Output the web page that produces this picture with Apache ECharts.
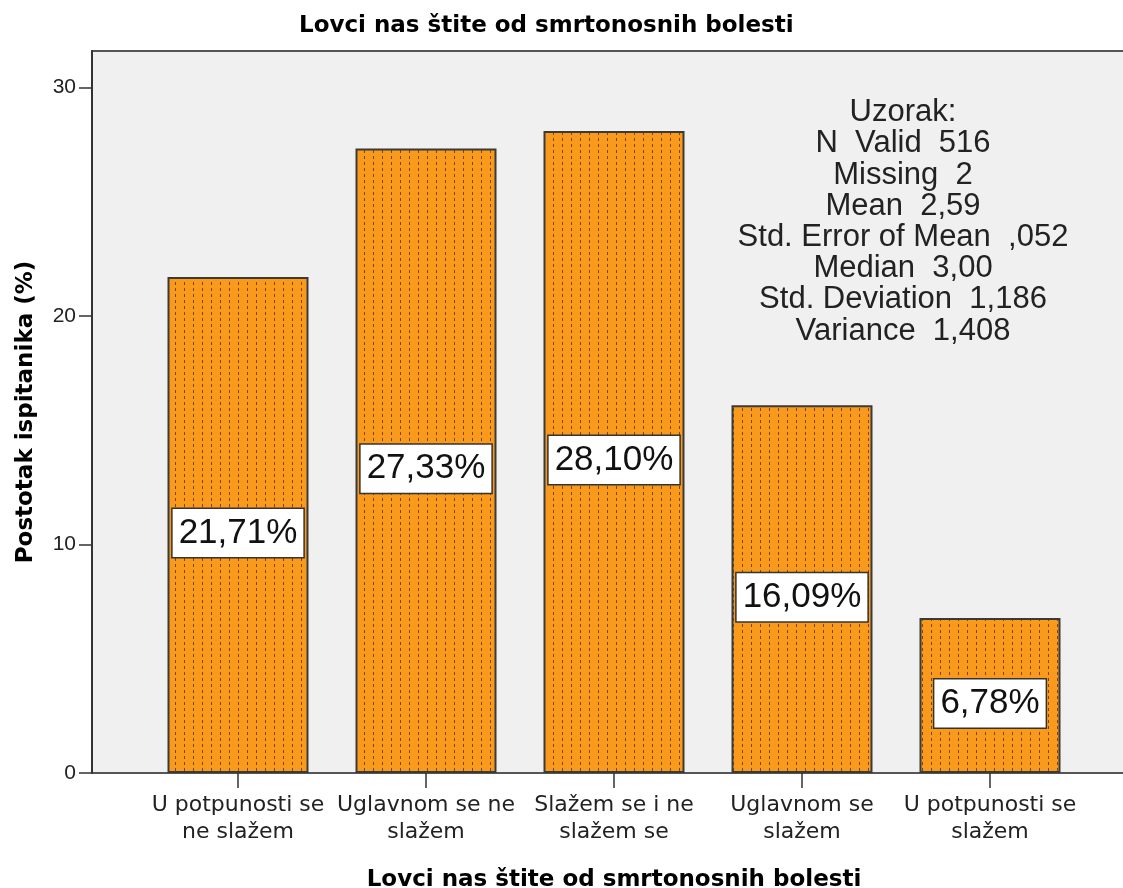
<!DOCTYPE html>
<html lang="hr">

<head>
    <meta charset="UTF-8" />
    <title>Lovci nas štite od smrtonosnih bolesti</title>
    <script src="https://cdn.jsdelivr.net/npm/echarts@6/dist/echarts.min.js"></script>
    <style>
        * {
            margin: 0;
        }

        #chart {
            width: 1123px;
            height: 888px;
            background: #fff;
        }
    </style>
</head>

<body>
    <div id="chart"></div>
    <script>
        const categories = [
            "U potpunosti se\nne slažem",
            "Uglavnom se ne\nslažem",
            "Slažem se i ne\nslažem se",
            "Uglavnom se\nslažem",
            "U potpunosti se\nslažem",
        ];
        const percents = [21.71, 27.33, 28.1, 16.09, 6.78];
        const yTicks = [0, 10, 20, 30];
        const statsLines = [
            "Uzorak:",
            "N  Valid  516",
            "Missing  2",
            "Mean  2,59",
            "Std. Error of Mean  ,052",
            "Median  3,00",
            "Std. Deviation  1,186",
            "Variance  1,408",
        ];

        // dotted fill like the spss bars
        function makePattern() {
            const c = document.createElement("canvas");
            c.width = 9;
            c.height = 6;
            const ctx = c.getContext("2d");
            ctx.fillStyle = "#fa9a1c";
            ctx.fillRect(0, 0, 9, 6);
            ctx.fillStyle = "rgba(100,55,5,0.85)";
            ctx.fillRect(4, 0, 1, 3);
            return c;
        }

        const font = "'Liberation Sans', Arial, sans-serif";
        const boldFont = "'DejaVu Sans', sans-serif";
        const chart = echarts.init(document.getElementById("chart"));

        const option = {
            animation: false,
            title: {
                text: "Lovci nas štite od smrtonosnih bolesti",
                left: 294,
                top: 10,
                textStyle: { fontFamily: boldFont, fontSize: 23, fontWeight: "bold", color: "#000" },
            },
            grid: { left: 144, right: 39, top: 51, bottom: 115, outerBoundsMode: "none" },
            graphic: [
                {
                    type: "rect",
                    z: -100,
                    shape: { x: 92, y: 51, width: 1060, height: 722 },
                    style: { fill: "#f0f0f0", stroke: "#555", lineWidth: 2 },
                },
                {
                    type: "text",
                    x: 903,
                    y: 97,
                    style: {
                        text: statsLines.join("\n"),
                        font: "31px " + font,
                        lineHeight: 31.2,
                        fill: "#222",
                        align: "center",
                        verticalAlign: "top",
                    },
                },
            ],
            xAxis: {
                type: "category",
                data: categories,
                name: "Lovci nas štite od smrtonosnih bolesti",
                nameLocation: "middle",
                nameGap: 96,
                nameTextStyle: { fontFamily: boldFont, fontSize: 23, fontWeight: "bold", color: "#000" },
                axisLine: { show: false },
                axisTick: { show: true, interval: 0, alignWithLabel: true, length: 15, lineStyle: { color: "#333", width: 1.5 } },
                axisLabel: {
                    interval: 0,
                    margin: 19,
                    fontFamily: "'DejaVu Sans', sans-serif",
                    fontSize: 22,
                    lineHeight: 27,
                    color: "#222",
                },
            },
            yAxis: {
                type: "value",
                min: 0,
                max: 31.6,
                interval: 10,
                offset: 52,
                name: "Postotak ispitanika (%)",
                nameLocation: "middle",
                nameGap: 54,
                nameTextStyle: { fontFamily: boldFont, fontSize: 23, fontWeight: "bold", color: "#000" },
                splitLine: { show: false },
                axisLine: { show: true, lineStyle: { color: "#333", width: 2 } },
                axisTick: { show: true, length: 13, customValues: yTicks, lineStyle: { color: "#333", width: 1.5 } },
                axisLabel: {
                    customValues: yTicks,
                    margin: 16,
                    fontFamily: font,
                    fontSize: 21,
                    color: "#222",
                },
            },
            series: [
                {
                    type: "bar",
                    data: percents,
                    barWidth: 141,
                    itemStyle: {
                        color: { image: makePattern(), repeat: "repeat" },
                        borderColor: "#3a3a3a",
                        borderWidth: 2,
                    },
                    label: {
                        show: true,
                        position: "inside",
                        offset: [0, 8],
                        formatter: (p) => p.value.toFixed(2).replace(".", ",") + "%",
                        fontFamily: font,
                        fontSize: 35,
                        lineHeight: 40,
                        color: "#111",
                        backgroundColor: "#fff",
                        borderColor: "#333",
                        borderWidth: 1.5,
                        padding: [4, 6],
                    },
                },
            ],
        };

        chart.setOption(option);
    </script>
</body>

</html>
